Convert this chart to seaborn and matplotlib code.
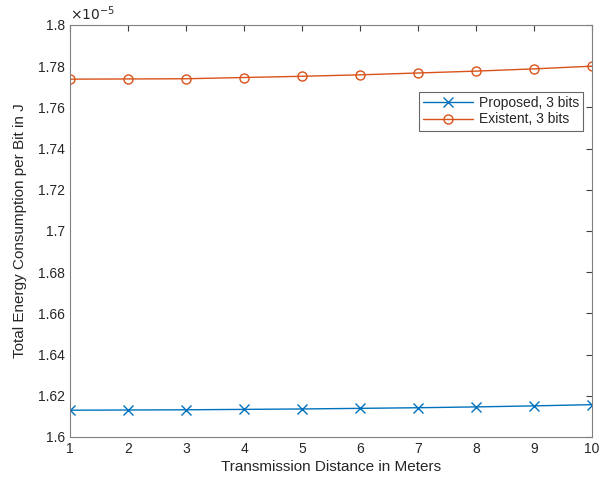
import numpy as np
import pandas as pd
import matplotlib
matplotlib.use("Agg")
import matplotlib.pyplot as plt
import seaborn as sns
from matplotlib.ticker import FuncFormatter

# values in units of 1e-5 J
distance = [1, 2, 3, 4, 5, 6, 7, 8, 9, 10]
proposed = [1.6130, 1.6131, 1.6132, 1.6134, 1.6136, 1.6139, 1.6142, 1.6146, 1.6151, 1.6157]
existent = [1.7737, 1.7738, 1.7739, 1.7745, 1.7751, 1.7758, 1.7767, 1.7776, 1.7787, 1.7800]
labels = ["Proposed, 3 bits", "Existent, 3 bits"]

sns.set_style("white")
plt.rcParams["font.family"] = ["Liberation Sans", "DejaVu Sans"]

fig = plt.figure(figsize=(6.01, 4.87), dpi=100)
ax = fig.add_axes([0.1165, 0.1027, 0.8686, 0.846])

colors = ["#0072BD", "#D95319"]
markers = ["x", "o"]
for vals, lab, c, m in zip([proposed, existent], labels, colors, markers):
    sns.lineplot(x=distance, y=vals, label=lab, color=c, marker=m, ax=ax,
                 linewidth=1.0, markersize=6.5, markerfacecolor="none",
                 markeredgecolor=c, markeredgewidth=1.0)

ax.set_xlim(1, 10)
ax.set_ylim(1.6, 1.8)
ax.set_xticks(distance)
ax.set_yticks(np.arange(1.6, 1.8001, 0.02))
ax.yaxis.set_major_formatter(FuncFormatter(lambda v, p: "%g" % round(v, 2)))

ax.set_xlabel("Transmission Distance in Meters", fontsize=11, color="#262626", labelpad=3)
ax.set_ylabel("Total Energy Consumption per Bit in J", fontsize=11, color="#262626", labelpad=8)
ax.tick_params(axis="both", direction="in", length=4, width=0.8, colors="#404040",
               labelsize=10, labelcolor="#262626", top=True, right=True)
for s in ax.spines.values():
    s.set_color("#808080")
    s.set_linewidth(0.8)

ax.text(0.0, 1.005, r"$\times10^{-5}$", transform=ax.transAxes, fontsize=10,
        color="#262626", ha="left", va="bottom")

leg = ax.legend(loc="upper right", bbox_to_anchor=(0.983, 0.837), fontsize=10,
                frameon=True, fancybox=False, edgecolor="#404040",
                handlelength=3.6, handletextpad=0.4, borderpad=0.3,
                labelspacing=0.15, borderaxespad=0)
leg.get_frame().set_linewidth(0.8)

fig.savefig("out.png", dpi=100)
